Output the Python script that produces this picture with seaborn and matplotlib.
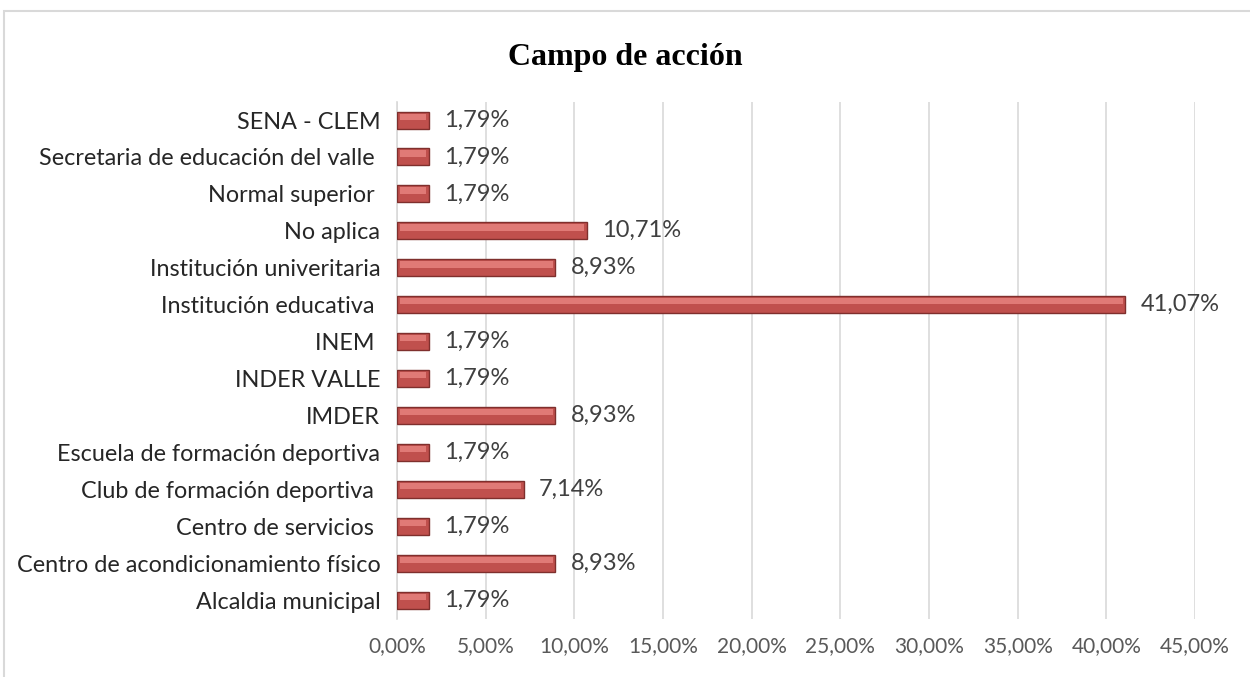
import matplotlib
matplotlib.use("Agg")
import matplotlib.pyplot as plt
import seaborn as sns
import numpy as np
import pandas as pd
from matplotlib.patches import Rectangle

categorias = [
    'SENA - CLEM', 'Secretaria de educación del valle ', 'Normal superior ',
    'No aplica', 'Institución univeritaria', 'Institución educativa ',
    'INEM ', 'INDER VALLE', 'IMDER', 'Escuela de formación deportiva',
    'Club de formación deportiva ', 'Centro de servicios ',
    'Centro de acondicionamiento físico', 'Alcaldia municipal',
]
porcentajes = [1.79, 1.79, 1.79, 10.71, 8.93, 41.07, 1.79, 1.79, 8.93,
               1.79, 7.14, 1.79, 8.93, 1.79]
xticks = [0, 5, 10, 15, 20, 25, 30, 35, 40, 45]

df = pd.DataFrame({'campo': categorias, 'pct': porcentajes})

sns.set_style('white')
plt.rcParams['font.family'] = ['Lato', 'DejaVu Sans']

fig = plt.figure(figsize=(12.5, 6.77), dpi=100)
ax = fig.add_axes([0.3176, 0.0864, 0.9560 - 0.3176, 0.850 - 0.0864])

sns.barplot(data=df, x='pct', y='campo', orient='h', color='#C0504D',
            width=0.46, edgecolor='#7F2F2D', linewidth=1.0, saturation=1,
            ax=ax, zorder=3)

# bevel highlight on the upper part of each bar
ypos = np.arange(len(categorias))
ax.barh(ypos - 0.09, np.array(porcentajes) - 0.3, left=0.15, height=0.17,
        color='#E07A76', linewidth=0, zorder=4)

for y, v in zip(ypos, porcentajes):
    ax.text(v + 0.85, y, f'{v:.2f}%'.replace('.', ','), va='center', ha='left',
            fontsize=17, color='#404040')

ax.set_xlim(0, 45)
ax.set_ylim(len(categorias) - 0.5, -0.5)
ax.set_xticks(xticks)
ax.set_xticklabels([f'{t:.2f}%'.replace('.', ',') for t in xticks],
                   fontsize=15, color='#595959')
ax.tick_params(axis='y', labelsize=16.8, colors='#262626', length=0, pad=12)
ax.tick_params(axis='x', length=0, pad=13)
ax.set_xlabel('')
ax.set_ylabel('')
ax.xaxis.grid(True, color='#D9D9D9', linewidth=1.2, zorder=0)
ax.set_axisbelow(True)
for s in ['top', 'right', 'bottom']:
    ax.spines[s].set_visible(False)
ax.spines['left'].set_color('#D9D9D9')
ax.spines['left'].set_linewidth(1.2)

fig.text(0.5, 0.915, 'Campo de acción', ha='center', va='center', color='black',
         fontsize=23, fontweight='bold', family=['Liberation Serif', 'DejaVu Serif'])

fig.patches.append(Rectangle((4 / 1250, -0.1), 1.2, 1 - 11 / 677 + 0.1,
                             transform=fig.transFigure, fill=False,
                             edgecolor='#D9D9D9', linewidth=1.5))

fig.savefig('out.png', dpi=100)
